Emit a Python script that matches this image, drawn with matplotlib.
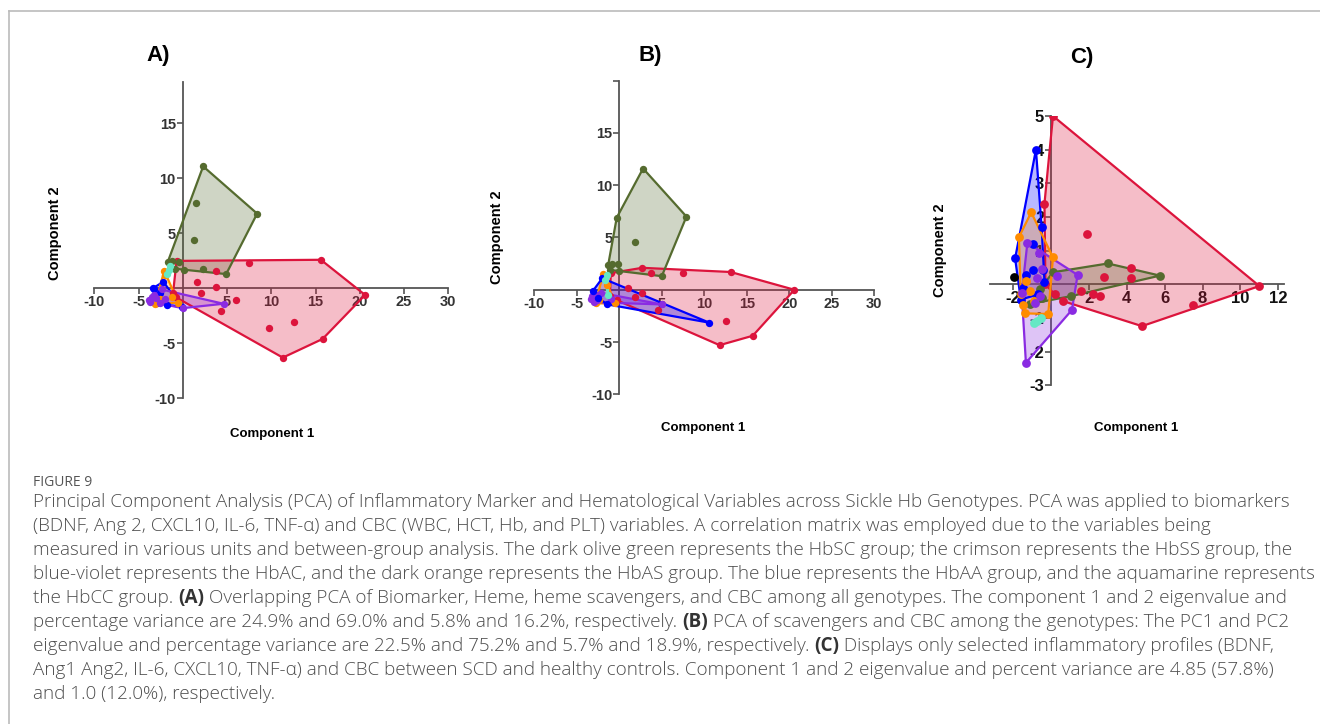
import matplotlib
matplotlib.use("Agg")
from matplotlib import pyplot as plt
from matplotlib.patches import Polygon
from matplotlib.lines import Line2D
import numpy as np

# --- panel A: biomarker, heme, scavengers, CBC ---
a_sc_x = [2.3, 8.4, 4.9, 1.5, 1.3, 2.3, -1.7, -1.2, -0.4, -0.9, 0.1]
a_sc_y = [11.1, 6.8, 1.3, 7.8, 4.4, 1.8, 2.4, 2.5, 2.4, 1.8, 1.7]
a_ss_x = [-0.7, 15.6, 20.6, 15.8, 11.3, -0.8, 3.8, 7.5, 1.6, 3.7, 2.1, 6.0, 4.3, 9.7, 12.6, -1.1]
a_ss_y = [2.5, 2.6, -0.6, -4.6, -6.3, -0.8, 1.6, 2.3, 0.6, 0.15, -0.45, -1.1, -2.1, -3.6, -3.1, -0.4]
a_ac_x = [4.6, 0.0, -3.8, -3.5, -3.7, -2.4, -3.0, -2.6, -3.2, -2.0]
a_ac_y = [-1.4, -1.8, -1.1, -0.8, -1.2, -0.1, -0.9, -1.3, -0.6, -1.0]
a_aa_x = [-3.4, -2.2, -1.8, -0.1, -3.3, -2.6, -2.9]
a_aa_y = [0.0, 0.6, -1.5, -1.7, -0.1, -0.4, -1.3]
a_as_x = [-2.1, -0.5, -3.1, -2.0, -1.2, -2.6]
a_as_y = [1.6, -1.3, -1.4, 1.2, -0.8, -1.0]
a_cc_x = [-1.6, -1.8, -1.5]
a_cc_y = [1.7, 1.3, 2.0]

# --- panel B: scavengers and CBC ---
b_sc_x = [2.8, 7.9, 5.0, -0.3, -1.3, 1.8, -0.9, -0.1, -1.1, 0.0]
b_sc_y = [11.6, 7.0, 1.3, 6.9, 2.4, 4.6, 2.5, 2.5, 1.9, 1.8]
b_ss_x = [-1.0, 2.7, 3.7, 7.5, 13.1, 20.6, 15.7, 11.8, 12.6, 1.0, 1.8, 2.7, 4.6, -1.1, -0.3]
b_ss_y = [1.6, 2.1, 1.6, 1.6, 1.7, 0.0, -4.4, -5.3, -3.0, 0.2, -0.7, -0.3, -1.9, -0.6, -1.0]
b_ac_x = [-3.2, -3.0, -2.6, -2.2, 5.0, -1.0, -3.3, -2.8]
b_ac_y = [-0.6, -1.2, -1.0, -0.3, -1.4, -0.9, -0.9, -0.5]
b_aa_x = [-2.0, 10.6, -1.4, -3.1, -2.5]
b_aa_y = [1.1, -3.15, -1.4, -0.1, -0.8]
b_as_x = [-1.9, -0.5, -2.4, -1.5, -2.8]
b_as_y = [1.5, -1.3, -1.0, 0.5, -1.3]
b_cc_x = [-1.5, -1.7, -1.3]
b_cc_y = [1.4, 0.9, -0.5]

# --- panel C: inflammatory profile and CBC ---
c_ss_x = [0.1, 11.0, 4.8, 0.65, -0.35, -0.3, 1.9, 4.2, 4.2, 2.8, 1.6, 2.2, 2.6, 7.5, 0.2]
c_ss_y = [5.0, -0.05, -1.24, -0.5, 2.4, 0.0, 1.5, 0.5, 0.2, 0.23, -0.2, -0.3, -0.35, -0.6, -0.3]
c_sc_x = [3.0, 5.75, 1.05, 0.1, -0.6, -1.1, -0.5]
c_sc_y = [0.62, 0.26, -0.35, 0.36, -0.15, -0.58, -0.4]
c_aa_x = [-0.8, -0.5, -1.9, -1.6, -0.95, -0.95, -0.45, -1.3, -0.35, -1.5, -0.7]
c_aa_y = [4.0, 1.7, 0.77, -0.45, 1.2, 0.42, 0.42, 0.28, 0.08, -0.1, -0.3]
c_as_x = [-1.05, -1.7, 0.1, -0.15, -1.4, -1.3, -1.6, -0.9, -1.5, -1.1]
c_as_y = [2.14, 1.4, 0.8, -0.88, -0.86, 0.1, -0.3, -0.5, -0.6, -0.2]
c_ac_x = [-1.25, 1.4, 1.1, -1.33, -0.65, -0.75, -0.5, -0.85, -0.6, -1.55, 0.3]
c_ac_y = [1.24, 0.28, -0.76, -2.33, 0.94, 0.2, 0.45, -0.55, -0.35, -0.27, 0.25]
c_cc_x = [-0.75, -0.55, -0.9]
c_cc_y = [-1.1, -1.0, -1.15]
c_other_x = [-1.95]
c_other_y = [0.23]

# farben wie in der legende beschrieben
col = {
    "HbSS": "#DC143C",     # crimson
    "HbSC": "#556B2F",     # dark olive green
    "HbAA": "#0000FF",     # blue
    "HbAS": "#FF8C00",     # dark orange
    "HbAC": "#8A2BE2",     # blue-violet
    "HbCC": "#66e8c4",     # aquamarine
}

panel_a = [("HbSS", a_ss_x, a_ss_y), ("HbSC", a_sc_x, a_sc_y), ("HbAA", a_aa_x, a_aa_y),
           ("HbAS", a_as_x, a_as_y), ("HbAC", a_ac_x, a_ac_y), ("HbCC", a_cc_x, a_cc_y)]
panel_b = [("HbSS", b_ss_x, b_ss_y), ("HbSC", b_sc_x, b_sc_y), ("HbAS", b_as_x, b_as_y),
           ("HbAC", b_ac_x, b_ac_y), ("HbAA", b_aa_x, b_aa_y), ("HbCC", b_cc_x, b_cc_y)]
panel_c = [("HbSS", c_ss_x, c_ss_y), ("HbSC", c_sc_x, c_sc_y), ("HbAA", c_aa_x, c_aa_y),
           ("HbAS", c_as_x, c_as_y), ("HbAC", c_ac_x, c_ac_y), ("HbCC", c_cc_x, c_cc_y)]

a_xticks = [-10, -5, 5, 10, 15, 20, 25, 30]
a_yticks = [-10, -5, 5, 10, 15]
b_yticks = [-10, -5, 5, 10, 15, 20]
b_ylabels = ["-10", "-5", "5", "10", "15", ""]   # 20 ist im original abgeschnitten
c_xticks = [-2, 2, 4, 6, 8, 10, 12]
c_yticks = [-3, -2, -1, 1, 2, 3, 4, 5]

caption = [
    [("Principal Component Analysis (PCA) of Inflammatory Marker and Hematological Variables across Sickle Hb Genotypes. PCA was applied to biomarkers", False)],
    [("(BDNF, Ang 2, CXCL10, IL-6, TNF-\u03b1) and CBC (WBC, HCT, Hb, and PLT) variables. A correlation matrix was employed due to the variables being", False)],
    [("measured in various units and between-group analysis. The dark olive green represents the HbSC group; the crimson represents the HbSS group, the", False)],
    [("blue-violet represents the HbAC, and the dark orange represents the HbAS group. The blue represents the HbAA group, and the aquamarine represents", False)],
    [("the HbCC group. ", False), ("(A)", True), (" Overlapping PCA of Biomarker, Heme, heme scavengers, and CBC among all genotypes. The component 1 and 2 eigenvalue and", False)],
    [("percentage variance are 24.9% and 69.0% and 5.8% and 16.2%, respectively. ", False), ("(B)", True), (" PCA of scavengers and CBC among the genotypes: The PC1 and PC2", False)],
    [("eigenvalue and percentage variance are 22.5% and 75.2% and 5.7% and 18.9%, respectively. ", False), ("(C)", True), (" Displays only selected inflammatory profiles (BDNF,", False)],
    [("Ang1 Ang2, IL-6, CXCL10, TNF-\u03b1) and CBC between SCD and healthy controls. Component 1 and 2 eigenvalue and percent variance are 4.85 (57.8%)", False)],
    [("and 1.0 (12.0%), respectively.", False)],
]

W, H = 1320, 724
fig = plt.figure(figsize=(W / 100, H / 100), dpi=100)
axis_font = ["Liberation Sans Narrow", "Liberation Sans", "DejaVu Sans"]


def convex_hull(xs, ys):
    # monotone chain, gibt die ecken gegen den uhrzeigersinn zurueck
    pts = sorted(set(zip(xs, ys)))
    if len(pts) < 3:
        return np.array(pts)

    def cross(o, a, b):
        return (a[0] - o[0]) * (b[1] - o[1]) - (a[1] - o[1]) * (b[0] - o[0])

    lower = []
    for p in pts:
        while len(lower) >= 2 and cross(lower[-2], lower[-1], p) <= 0:
            lower.pop()
        lower.append(p)
    upper = []
    for p in reversed(pts):
        while len(upper) >= 2 and cross(upper[-2], upper[-1], p) <= 0:
            upper.pop()
        upper.append(p)
    return np.array(lower[:-1] + upper[:-1])


def make_axes(rect, xlim, ylim, xticks, yticks, tick_size, tick_color, ylabels=None):
    ax = fig.add_axes(rect)
    ax.set_xlim(*xlim)
    ax.set_ylim(*ylim)
    for s in ["top", "right"]:
        ax.spines[s].set_visible(False)
    for s in ["left", "bottom"]:
        ax.spines[s].set_position(("data", 0))
        ax.spines[s].set_color("#555555")
        ax.spines[s].set_linewidth(1.3)
    ax.set_xticks(xticks)
    ax.set_yticks(yticks)
    ax.set_xticklabels([str(t) for t in xticks])
    ax.set_yticklabels(ylabels if ylabels else [str(t) for t in yticks])
    ax.tick_params(direction="out", length=4, width=1.2, color="#555555",
                   labelsize=tick_size, labelcolor=tick_color, pad=1)
    for lab in ax.get_xticklabels() + ax.get_yticklabels():
        lab.set_fontweight("bold")
        lab.set_family(["Liberation Sans", "DejaVu Sans"])
    ax.patch.set_visible(False)
    ax.set_axisbelow(True)
    return ax


def draw_groups(ax, groups, ms):
    for name, xs, ys in groups:
        c = col[name]
        hv = convex_hull(xs, ys)
        if len(hv) >= 3:
            ax.add_patch(Polygon(hv, closed=True, facecolor=c, alpha=0.28,
                                 edgecolor="none", zorder=3))
            ax.add_patch(Polygon(hv, closed=True, facecolor="none", edgecolor=c,
                                 linewidth=1.6, zorder=3.5))
        ax.scatter(xs, ys, s=ms, color=c, zorder=4, linewidths=0)


ax_a = make_axes([94.3 / W, 1 - 398.3 / H, 354 / W, 316.6 / H], (-10, 30), (-10, 18.8),
                 a_xticks, a_yticks, 10.5, "#333333")
draw_groups(ax_a, panel_a, 28)

ax_b = make_axes([534.3 / W, 1 - 394.3 / H, 340 / W, 313.6 / H], (-10, 30), (-10, 20),
                 a_xticks, b_yticks, 10.5, "#333333", b_ylabels)
draw_groups(ax_b, panel_b, 28)

ax_c = make_axes([990.5 / W, 1 - 385.4 / H, 293.5 / W, 269.4 / H], (-3.2, 12.3), (-3, 5),
                 c_xticks, c_yticks, 12, "#111111")
draw_groups(ax_c, panel_c, 40)
ax_c.scatter(c_other_x, c_other_y, s=40, color="black", zorder=4, linewidths=0)

# panel titel und achsenbeschriftung
for lab, x, y in [("A)", 158, 55), ("B)", 650, 55), ("C)", 1082, 57)]:
    fig.text(x / W, 1 - y / H, lab, ha="center", va="center", fontsize=16,
             fontweight="bold", family=["Liberation Sans", "DejaVu Sans"])
for x, y in [(55, 233), (497, 237), (940, 250)]:
    fig.text(x / W, 1 - y / H, "Component 2", ha="center", va="center", rotation=90,
             fontsize=10.5, fontweight="bold", family=axis_font)
for x, y in [(272, 434), (703, 428), (1136, 428)]:
    fig.text(x / W, 1 - y / H, "Component 1", ha="center", va="center",
             fontsize=9.5, fontweight="bold", family=axis_font)

# rahmen
fig.add_artist(Line2D([9 / W, 1], [1 - 11 / H, 1 - 11 / H], color="#bbbbbb", linewidth=1.2))
fig.add_artist(Line2D([9 / W, 9 / W], [0, 1 - 11 / H], color="#bbbbbb", linewidth=1.2))

# bildunterschrift
cap_font = ["Open Sans", "DejaVu Sans"]
cap_color = "#4d4d4d"
fig.text(33 / W, 1 - 483 / H, "FIGURE 9", ha="left", va="center", fontsize=10,
         color="#555555", family=cap_font)

renderer = fig.canvas.get_renderer()
# schriftgroesse so waehlen, dass zeile 1 und 4 in die breite passen
sizes = []
for line_idx, target in [(0, 1279), (3, 1282)]:
    probe = fig.text(0, 0, caption[line_idx][0][0], fontsize=11, family=cap_font, fontweight="light")
    pw = probe.get_window_extent(renderer).width
    probe.remove()
    sizes.append(11 * target / pw)
cap_size = min(sizes)

for i, parts in enumerate(caption):
    x = 33
    y = 501.7 + 24.07 * i
    for txt, bold in parts:
        t = fig.text(x / W, 1 - y / H, txt, ha="left", va="center", fontsize=cap_size,
                     color=cap_color if not bold else "#333333", family=cap_font,
                     fontweight="bold" if bold else "light")
        x += t.get_window_extent(renderer).width

fig.savefig("out.png", dpi=100)
